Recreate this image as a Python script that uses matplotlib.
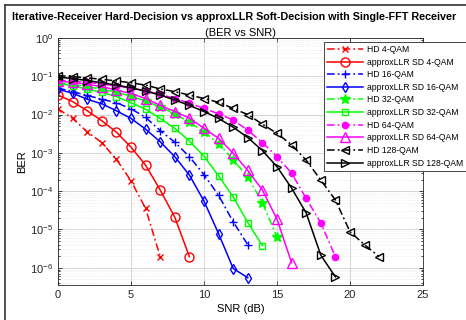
import numpy as np
import matplotlib.pyplot as plt
from matplotlib.lines import Line2D

plt.rcParams['font.family'] = ['Liberation Sans', 'DejaVu Sans']

# log10(BER), SNR starts at 0 dB with 1 dB steps
hd4 = [-1.85, -2.10, -2.45, -2.73, -3.17, -3.73, -4.45, -5.71]
sd4 = [-1.49, -1.66, -1.90, -2.16, -2.46, -2.85, -3.32, -3.97, -4.68, -5.71]
hd16 = [-1.31, -1.40, -1.50, -1.60, -1.69, -1.85, -2.07, -2.42, -2.72, -3.10,
        -3.57, -4.11, -4.80, -5.40]
sd16 = [-1.34, -1.44, -1.60, -1.72, -1.90, -2.10, -2.38, -2.71, -3.10, -3.58,
        -4.26, -5.11, -6.02, -6.26]
hd32 = [-1.16, -1.21, -1.27, -1.34, -1.42, -1.52, -1.65, -1.80, -1.98, -2.20,
        -2.45, -2.76, -3.18, -3.63, -4.30, -5.20]
sd32 = [-1.18, -1.25, -1.33, -1.42, -1.53, -1.69, -1.86, -2.10, -2.36, -2.69,
        -3.09, -3.60, -4.15, -4.82, -5.42]
hd64 = [-1.10, -1.13, -1.16, -1.20, -1.25, -1.31, -1.38, -1.47, -1.58, -1.70,
        -1.84, -1.98, -2.14, -2.41, -2.73, -3.10, -3.53, -4.19, -4.83, -5.71]
sd64 = [-1.12, -1.16, -1.21, -1.27, -1.36, -1.45, -1.58, -1.76, -1.92, -2.09,
        -2.36, -2.62, -3.01, -3.46, -3.97, -4.73, -5.87]
hd128 = [-0.98, -1.01, -1.04, -1.08, -1.12, -1.17, -1.23, -1.33, -1.40, -1.49,
         -1.58, -1.68, -1.84, -2.00, -2.25, -2.49, -2.79, -3.19, -3.71, -4.23,
         -5.06, -5.40, -5.71]
sd128 = [-1.02, -1.06, -1.11, -1.17, -1.23, -1.30, -1.39, -1.49, -1.62, -1.76,
         -1.92, -2.10, -2.33, -2.60, -2.94, -3.36, -3.92, -4.57, -5.67, -6.24]

labels = ['HD 4-QAM', 'approxLLR SD 4-QAM', 'HD 16-QAM', 'approxLLR SD 16-QAM',
          'HD 32-QAM', 'approxLLR SD 32-QAM', 'HD 64-QAM', 'approxLLR SD 64-QAM',
          'HD 128-QAM', 'approxLLR SD 128-QAM']
series = [hd4, sd4, hd16, sd16, hd32, sd32, hd64, sd64, hd128, sd128]

red, blue, green, mag, blk = '#ff0000', '#0000ff', '#00ff00', '#ff00ff', '#000000'
dashdot = (0, (5, 2, 1.2, 2))
styles = [
    dict(color=red, ls=dashdot, marker='x', mfc=red, ms=5),
    dict(color=red, ls='-', marker='o', mfc='none', ms=6.5),
    dict(color=blue, ls=dashdot, marker='+', mfc=blue, ms=6),
    dict(color=blue, ls='-', marker='d', mfc='none', ms=5.5),
    dict(color=green, ls=dashdot, marker='*', mfc=green, ms=7),
    dict(color=green, ls='-', marker='s', mfc='none', ms=4.5),
    dict(color=mag, ls=dashdot, marker='o', mfc=mag, ms=4.5),
    dict(color=mag, ls='-', marker='^', mfc='none', ms=6.5),
    dict(color=blk, ls=dashdot, marker='<', mfc='none', ms=5.5),
    dict(color=blk, ls='-', marker='>', mfc='none', ms=5.5),
]

fig = plt.figure(figsize=(4.66, 3.2), dpi=100)
ax = fig.add_axes([58/466, 1-285/320, (423-58)/466, (285-38)/320])

for y, lab, st in zip(series, labels, styles):
    snr = np.arange(len(y))
    ax.semilogy(snr, 10.0**np.array(y), label=lab, lw=1.1, mew=1.0, **st)

ax.set_xlim(0, 25)
ax.set_ylim(10**-6.45, 1)
ax.set_xticks([0, 5, 10, 15, 20, 25])
ax.grid(True, which='major', color='#d0d0d0', lw=0.6)
ax.grid(True, which='minor', color='#e4e4e4', lw=0.5, ls=':')
ax.tick_params(which='both', direction='in', top=True, right=True,
               labelsize=8, colors='#262626', width=0.6)
ax.tick_params(which='major', length=3)
ax.tick_params(which='minor', length=1.5)
for s in ax.spines.values():
    s.set_color('#262626')
    s.set_linewidth(0.6)
ax.set_xlabel('SNR (dB)', fontsize=8, labelpad=3)
ax.set_ylabel('BER', fontsize=8, labelpad=2)

leg = ax.legend(loc='upper left', bbox_to_anchor=(324/466, 1-42/320),
                bbox_transform=fig.transFigure, fontsize=6.2, handlelength=4.2,
                handletextpad=0.4, labelspacing=0.42, borderpad=0.35,
                fancybox=False, framealpha=1, edgecolor='#262626',
                borderaxespad=0)
leg.get_frame().set_linewidth(0.6)

fig.text(12/466, 1-17/320,
         'Iterative-Receiver Hard-Decision vs approxLLR Soft-Decision with Single-FFT Receiver',
         fontsize=7.75, fontweight='bold', va='center', ha='left')
fig.text((58+423)/2/466, 1-33/320, '(BER vs SNR)', fontsize=8,
         va='center', ha='center')

# figure frame (top and left edges visible in the screenshot)
fig.add_artist(Line2D([5/466, 1], [1-5/320, 1-5/320], color='#333333', lw=1.2))
fig.add_artist(Line2D([5/466, 5/466], [0, 1-5/320], color='#333333', lw=1.2))

fig.savefig('out.png', dpi=100)
